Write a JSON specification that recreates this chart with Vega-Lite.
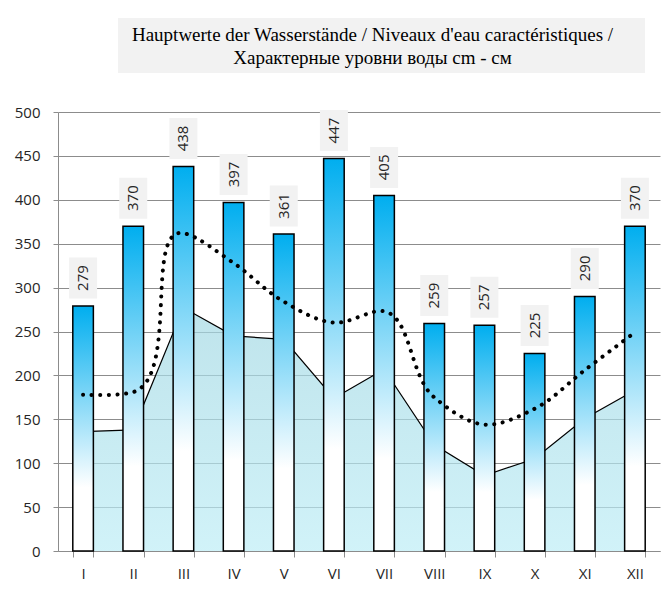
{
  "$schema": "https://vega.github.io/schema/vega-lite/v6.json",
  "background": "white",
  "padding": {"left": 14, "top": 18, "right": 5, "bottom": 5},
  "spacing": 32,
  "bounds": "full",
  "config": {
    "view": {"stroke": null},
    "axis": {"labelFont": "Open Sans", "labelFontSize": 15, "labelColor": "#262626"}
  },
  "datasets": {
    "months": [
      {"month": "I", "max": 279, "low": 136, "mean": 178},
      {"month": "II", "max": 370, "low": 138, "mean": 181},
      {"month": "III", "max": 438, "low": 277, "mean": 362},
      {"month": "IV", "max": 397, "low": 245, "mean": 328},
      {"month": "V", "max": 361, "low": 241, "mean": 284},
      {"month": "VI", "max": 447, "low": 174, "mean": 260},
      {"month": "VII", "max": 405, "low": 207, "mean": 273},
      {"month": "VIII", "max": 259, "low": 121, "mean": 175},
      {"month": "IX", "max": 257, "low": 86, "mean": 144},
      {"month": "X", "max": 225, "low": 105, "mean": 162},
      {"month": "XI", "max": 290, "low": 151, "mean": 206},
      {"month": "XII", "max": 370, "low": 183, "mean": 249}
    ],
    "title": [
      {"row": 1, "line": "Hauptwerte der Wasserstände / Niveaux d'eau caractéristiques /"},
      {"row": 2, "line": "Характерные уровни воды cm - см"}
    ]
  },
  "vconcat": [
    {
      "spacing": 0,
      "bounds": "flush",
      "hconcat": [
        {
          "width": 60,
          "height": 55,
          "data": {"values": []},
          "mark": "text"
        },
        {
          "width": 527,
          "height": 55,
          "view": {"fill": "#f2f2f2", "stroke": null},
          "data": {"name": "title"},
          "mark": {"type": "text", "font": "Liberation Serif", "fontSize": 19, "color": "black", "baseline": "alphabetic", "align": "center", "dx": -9, "dy": 7},
          "encoding": {
            "y": {"field": "row", "type": "ordinal", "scale": {"type": "point", "padding": 0.68}, "axis": null},
            "text": {"field": "line"}
          }
        }
      ]
    },
    {
      "width": 602,
      "height": 439,
      "data": {"name": "months"},
      "encoding": {
        "x": {
          "field": "month", "type": "ordinal", "sort": null, "title": null,
          "scale": {"paddingInner": 0.59, "paddingOuter": 0.295},
          "axis": {"title": null, "labelAngle": 0, "tickBand": "extent", "domainColor": "#8c8c8c", "tickColor": "#8c8c8c", "tickSize": 6, "labelPadding": 9, "grid": false}
        }
      },
      "layer": [
        {
          "mark": {
            "type": "area",
            "color": {"gradient": "linear", "x1": 0, "y1": 0, "x2": 0, "y2": 1, "stops": [{"offset": 0, "color": "#a3d8e3"}, {"offset": 1, "color": "#bdedf6"}]},
            "line": {"color": "black", "strokeWidth": 1.2}
          },
          "encoding": {
            "y": {
              "field": "low", "type": "quantitative", "title": null, "scale": {"domain": [0, 500]},
              "axis": {"title": null, "values": [0, 50, 100, 150, 200, 250, 300, 350, 400, 450, 500], "grid": true, "gridColor": "#8c8c8c", "domainColor": "#8c8c8c", "tickColor": "#8c8c8c", "tickSize": 5, "labelPadding": 13}
            }
          }
        },
        {
          "mark": {
            "type": "bar", "stroke": "black", "strokeWidth": 1.5,
            "color": {"gradient": "linear", "x1": 0, "y1": 0, "x2": 0, "y2": 1, "stops": [{"offset": 0, "color": "#00aeef"}, {"offset": 0.74, "color": "#ffffff"}, {"offset": 1, "color": "#ffffff"}]}
          },
          "encoding": {"y": {"field": "max", "type": "quantitative", "title": null}}
        },
        {
          "mark": {"type": "line", "color": "black", "strokeWidth": 4, "strokeCap": "round", "strokeDash": [0.1, 8.5], "interpolate": "catmull-rom", "tension": 1},
          "encoding": {"y": {"field": "mean", "type": "quantitative", "title": null}}
        },
        {
          "mark": {"type": "point", "shape": "M-0.683,-1H0.683V1H-0.683Z", "size": 1681, "filled": true, "color": "#f2f2f2", "opacity": 1, "strokeWidth": 0, "yOffset": -28},
          "encoding": {"y": {"field": "max", "type": "quantitative", "title": null}}
        },
        {
          "mark": {"type": "text", "angle": 270, "font": "Open Sans", "fontSize": 15, "color": "#262626", "align": "center", "baseline": "middle", "yOffset": -28},
          "encoding": {
            "y": {"field": "max", "type": "quantitative", "title": null},
            "text": {"field": "max", "type": "quantitative"}
          }
        }
      ]
    }
  ]
}
